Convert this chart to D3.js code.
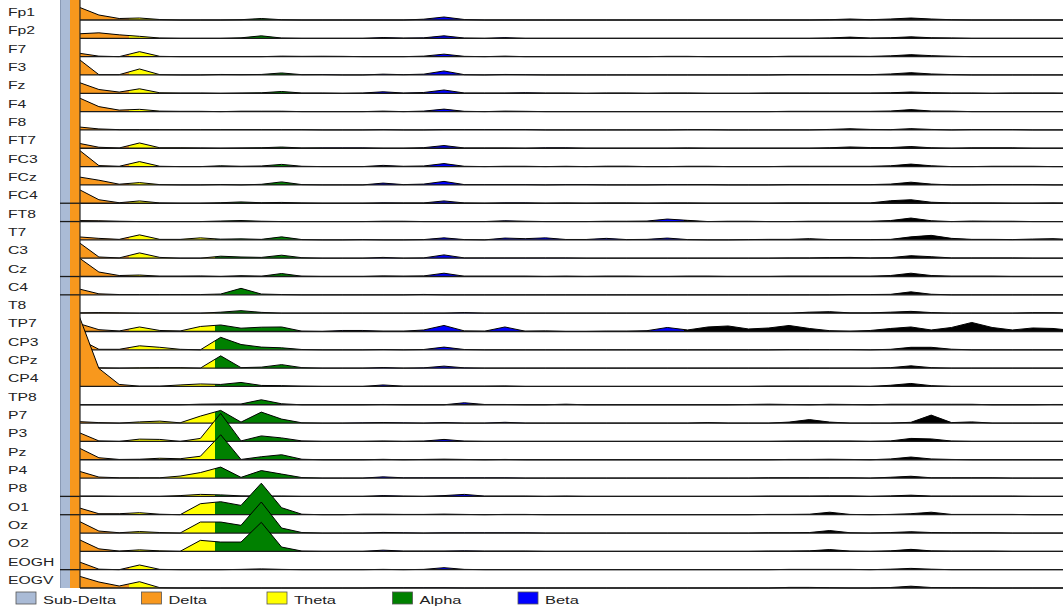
<!DOCTYPE html>
<html><head><meta charset="utf-8">
<script src="https://cdn.jsdelivr.net/npm/d3@7"></script>
<style>
body{margin:0;background:#fff}
svg{display:block}
text{font-family:"Liberation Sans",Arial,sans-serif;fill:#222}
</style>
</head><body>
<svg id="c" width="1063" height="612"></svg>
<script>
// ---------- data ----------
const channels = ["Fp1","Fp2","F7","F3","Fz","F4","F8","FT7","FC3","FCz","FC4","FT8","T7","C3","Cz","C4","T8","TP7","CP3","CPz","CP4","TP8","P7","P3","Pz","P4","P8","O1","Oz","O2","EOGH","EOGV"];
// frequency bins (Hz)
const freqs = [1,2,3,4,5,6,7,8,9,10,11,12,13,14,15,16,17,18,19,20,21,22,23,24,25,26,27,28,29,30,31,32,33,34,35,36,37,38,39,40,41,42,43,44,45,46,47,48,49,50];
// band edges (Hz): delta|theta, theta|alpha, alpha|beta, beta|gamma
const bandEdges = [3.5, 7.7, 12.9, 30.8];
const bandFill = ["#f8981d","#ffff00","#008000","#0000ff","#000000"];
const legendLabels = ["Sub-Delta","Delta","Theta","Alpha","Beta"];
const legendColors = ["#aabbd6","#f8981d","#ffff00","#008000","#0000ff"];
// rows whose baseline crosses the sub-delta / delta columns
const columnLines = ["FC4","FT8","Cz","C4","P8","O1","EOGH"];

// spectral power per channel (one value per frequency bin)
const Fp1  = [13,5,1.5,2,0.5,0,0,0,0.3,1.5, 0.3,0,0,0,0,0,0,0.8,3,0.5, 0,0,0,0,0,0,0,0,0,0, 0,0,0,0,0,0,0,0.3,1,0.3, 1,2,1,0.3,0,0,0,0,0,0];
const Fp2  = [4.5,5.5,3.5,2,0.3,0,0,0,0.5,2.5, 0.3,0,0,0,0,0.8,0.3,0.5,2.5,0.3, 0,0.7,0,0,0,0,0,0,0,0, 0,0,0,0,0,0,0,0.4,1.2,0.3, 0.6,1.5,0.6,0.4,0,0,0,0,0,0];
const F7   = [3.5,0.5,0,5,0.3,0,0,0,0,0, 0.5,0.3,0.4,0.3,0,0,0,0.5,2.5,0.3, 0,0.5,0,0,0,0,0,0,0,0.3, 0.3,0,0,0,0,0.4,0.4,0.4,0.4,0.3, 0.8,2,1,0.4,0,0,0,0,0,0];
const F3   = [16,0.3,0.3,6,0.3,0,0,0.5,0.3,0.5, 2,0.3,0.4,0,0,0.8,0.3,0.8,4,0.3, 0,0.5,0.3,0,0,0,0,0,0,0, 0,0,0,0,0,0.4,0.4,0.4,0.4,0.3, 1,2.3,1,0.4,0,0,0,0,0,0];
const Fz   = [11,3.8,1.2,4.5,0.5,0.3,0.3,0,0.3,0.5, 1.8,0.3,0.3,0,0.3,1.5,0.3,0.8,3.3,0.3, 0.3,0.3,0.6,0.3,0.3,0,0.3,0.3,0,0.3, 0.3,0,0,0,0.3,0.3,0.3,0.3,0.3,0.3, 0.5,1.3,0.6,0.3,0.3,0,0.3,0.3,0.3,0];
const F4   = [14,5,1.5,2.3,0.5,0.3,0.3,0,0.4,0.4, 0.4,0,0,0,0,0.5,0,0.5,2.5,0.3, 0,0.5,0.3,0,0,0,0,0,0,0, 0,0,0,0,0,0.3,0.3,0.3,0.3,0.3, 0.6,2,0.6,0.5,0,0,0,0,0,0];
const F8   = [3,1,0.3,0.3,0.3,0.3,0.3,0.3,0.3,0.3, 0.3,0.3,0,0,0,0.3,0,0,0.4,0.4, 0.4,0.4,0.4,0,0,0,0,0,0,0, 0.3,0.3,0,0,0,0,0,0.5,1.2,0.5, 0.3,1.3,0.5,0,0.4,0.4,0.4,0,0,0];
const FT7  = [5,1,0.3,5.3,0.5,0.5,0.3,0,0.3,0.5, 1.2,0.3,0.4,0.4,0.4,0,0,0.6,2.7,0.3, 0.3,0.3,0,0.5,0.5,0,0,0,0,0, 0.3,0,0,0,0,0,0,0.5,1.3,0.7, 0.7,1.7,0.5,0,0.4,0.4,0.4,0,0,0];
const FC3  = [17,1,0.3,5,0.3,0,0,0.8,0.3,0.6, 2.2,0.3,0,0,0,1.2,0.3,0.6,3,0.3, 0,0.3,0.3,0,0.3,0,0.4,0.4,0,0, 0.3,0.3,0,0,0,0.3,0.3,0.3,0.3,0.3, 0.8,2.5,0.8,0,0,0.3,0.3,0.3,0,0];
const FCz  = [8,4.7,0.7,2.3,0.3,0,0,0.4,0,0.6, 3,0.3,0,0,0,1.8,0.3,0.8,3.5,0.3, 0.3,0.3,0.3,0,0.3,0.3,0,0,0,0.3, 0.3,0.3,0,0,0,0.3,0.3,0.3,0.3,0.3, 0.8,2.7,0.8,0,0,0.3,0.3,0.3,0,0];
const FC4  = [14,3.5,0.5,2.3,0.3,0,0,0.5,1.3,0.5, 0.8,0.3,0,0,0,0.4,0.3,0.3,2.3,0.3, 0,0.4,0.4,0,0.3,0,0.3,0.3,0,0.3, 0.3,0,0,0,0,0.3,0.3,0.3,0.3,0.3, 2.5,3.5,1,0.3,0.3,0.3,0,0,0.3,0];
const FT8  = [1,0.8,0.3,0,0,0,0,0.5,1,0.3, 0,0,0,0,0,0.3,0.3,0,0,0, 0,0.8,0.3,0,0,0,0.3,0.3,0.5,2.5, 1.2,0,0.3,0.3,0,0,0.3,0.3,0.3,0.3, 1,3.5,0.8,0,0.5,0.3,0.3,0,0,0];
const T7   = [3,1.5,0.5,5,0.5,0.5,2,0.7,1,0.5, 3,0.3,0,0,0.3,0,0,0.3,2,0.3, 0,1.8,1.2,2,0.4,0.4,1.5,0.3,0.5,1.8, 0.3,0,0,0.3,0.5,0.5,1.2,0.3,0.3,0.3, 0.5,3,4.5,1.5,0.5,0.5,0.3,0.8,1.2,0.3];
const C3   = [16,1.2,0.3,5.3,0.8,0,0,2,1.2,0.8, 3,0.5,0,0,0,0.8,0,0.3,3.3,0.3, 0.3,0.3,0.3,0.3,0.3,0,0,0,0,0, 0,0,0,0,0,0.3,0.3,0.6,0.8,0.3, 0.6,2.5,1.5,0.3,0.3,0.3,0.3,0,0,0];
const Cz   = [19,4.5,1,1.5,0.3,0.3,0.5,0,0.8,0.3, 3,0.3,0,0,0,0.6,0.3,0.6,3.3,0.3, 0.3,0.3,0.3,0,0.3,0,0.3,0.3,0,0, 0.3,0.3,0,0,0,0.3,0.3,0.3,0.3,0.3, 1,3.3,1,0.3,0.3,0.3,0,0,0,0];
const C4   = [6,1,0.3,0.3,0.3,0.3,0.3,0.8,6.5,0.8, 0.3,0,0,0,0,0,0,0.4,0,0, 0,0,0,0,0,0,0,0,0,0, 0,0,0,0,0,0,0,0,0.3,0.3, 0.5,3,0.6,0,0,0,0,0,0,0];
const T8   = [0.3,0.6,0.3,0,0,0,0,1,2.5,0.8, 0,0,0,0,0,0,0,0,0,0.6, 0,0,0,0,0,0,0,0,0,0, 0,0,0,0,0,0,1,1.5,0.3,0.3, 1,1.8,0.6,0,0,0,0,0.5,0.5,0];
const TP7  = [8,1.8,0.5,4.5,1,0.5,5,6.5,3.3,4.3, 4.5,0.3,0,1,1,0.3,0.3,1.5,6,0.6, 0.3,4.5,0.3,0.6,0,0,0.3,0.3,0.8,4, 1.5,4.5,5.5,2.5,3.5,6,3,0.8,0.3,1, 3,4.5,1.5,4,9,4,1.5,3.5,3,1];
const CP3  = [11,0.5,0.5,4,2.5,0.5,0,12.5,5.3,2.7, 2,0.3,0,0,0,0.3,0,0.3,2.7,0.3, 0,0,0,0,0,0,0,0,0,0, 0,0,0,0,0,0.3,0.3,0.3,0.3,0, 0.5,2.5,2.5,0.6,0,0,0,0,0,0];
const CPz  = [6,0.3,0,0.3,0.5,0.5,0,12.3,0.5,1, 3.5,0.5,0,0,0,0.6,0,0.3,2,0.3, 0,0,0,0,0,0,0,0,0,0, 0,0,0,0,0,0,0,0,0,0, 0.5,2.3,0.5,0,0,0,0,0,0,0];
const CP4  = [72,18,2,0.3,0.3,1.5,2.5,2,4,1, 0.8,0.3,0,0,0,1.5,0.3,0.3,0.3,0.3, 0.3,0.5,0,0,0,0,0,0,0,0, 0,0,0,0,0.3,0.3,0.3,0.3,0.3,0, 1.2,3,0.8,0,0,0,0,0,0,0];
const TP8  = [0,0,0,0,0,0,0.6,0.8,0.8,5, 1,0,0,0,0,0.3,0,0,0,2, 0.3,0.3,0,0,0.6,0,0,0,0,0, 0,0,0,0.3,0.6,0.3,0,0.5,0.3,0, 0.5,0.5,0.5,0.5,0.5,0,0,0,0.3,0.3];
const P7   = [1.5,0.5,0,1.2,2,0.3,7,12.7,1,11, 4,0.3,0,0,0.3,0.6,0.3,0,0.6,0, 0,0.8,0,0,0,0,0,0,0,0, 0,0.5,0,0,0,1,3.5,1,0,0, 0,0.8,8,0.5,1.2,0,0,0,0,0];
const P3   = [9,0.5,0,2.3,2,0,3,28,0.5,5.5, 3.5,0.5,0,0,0,0.4,0,0.3,2,0.3, 0,0,0,0,0,0,0,0,0,0, 0,0,0,0,0,0.3,0.4,0.4,0.4,0, 0.5,3,2.5,0.4,0,0,0,0,0,0];
const Pz   = [12,2,0.3,0.5,1.5,1,3.5,25,0.3,3, 5,0.5,0,0,0,0.4,0,0.3,0.6,0.3, 0,0.3,0,0,0,0,0,0,0,0, 0,0,0,0,0,0.3,0.3,0.5,0.3,0, 0.8,2.7,0.8,0.3,0,0,0,0,0,0];
const P4   = [7,1,0.3,0.3,0.3,2,5.5,11,0.7,7.5, 4,0.5,0,0,0,1.2,0.3,0.3,0.3,0.3, 0.3,0.3,0,0,0,0,0,0,0,0, 0,0,0,0,0.3,0.3,0.3,0.3,0.3,0, 0.8,1.8,0.3,0.3,0.3,0.3,0,0,0,0];
const P8   = [0.3,0.3,0,0,0,0.8,2,1.5,0.5,0.3, 0.3,0,0,0,0,0.8,0.3,0,0.8,2, 0.3,0.3,0.3,0,0.3,0,0,0,0,0, 0,0,0,0,0.3,0.3,0.3,0.5,0.5,0, 0.5,1.2,0.3,0.3,0.3,0.3,0.3,0,0,0];
const O1   = [7,1,1,2,0.5,0,11,13,9.3,31.5, 7,0.5,0,0,0.5,0.5,0.3,0.3,0.6,0.3, 0,0.3,0.3,0,0,0,0,0,0,0, 0,0,0,0,0.3,0.3,0.5,2.5,0.3,0, 0.3,1,2.5,0.3,0.3,0.3,0.3,0,0,0];
const Oz   = [12,2,0.3,1.5,0.5,0,11,11,7.7,31, 5,0.5,0,0,0,0.6,0.3,0,0.3,0.3, 0.3,0.3,0.3,0,0,0,0,0,0,0, 0,0,0,0,0.3,0.3,0.5,2.5,0.3,0, 0.5,1.3,0.5,0.3,0.3,0.3,0,0,0,0];
const O2   = [12,2.5,0.3,1.5,0.5,0,11,9.3,9.3,29, 4.3,0.3,0,0,0,1.2,0.3,0.3,0.3,0.6, 0.3,0.3,0.3,0,0,0,0,0,0,0, 0,0,0,0,0.3,0.3,0.5,1.8,0.3,0, 0.5,2,0.5,0.3,0.3,0.3,0,0,0,0];
const EOGH = [8,0.5,0,4.7,0.3,0,0,0,0.3,0.8, 0.3,0,0,0,0,0.3,0,0.3,2,0.3, 0,0,0,0,0,0,0,0,0,0, 0,0,0,0,0,0.3,0.3,0.3,0.3,0, 0.5,1.3,0.5,0,0,0,0,0,0,0];
const EOGV = [12,6,2,6.3,0.3,0,0,0,0,0, 0,0,0,0,0,0.3,0.3,0.3,0.3,0, 0,0,0,0,0,0,0,0,0,0, 0,0,0,0,0,0.6,0.6,0.3,0,0, 0.5,1.8,0.5,0.3,0.3,0,0,0,0,0];

const power = [Fp1,Fp2,F7,F3,Fz,F4,F8,FT7,FC3,FCz,FC4,FT8,T7,C3,Cz,C4,T8,TP7,CP3,CPz,CP4,TP8,P7,P3,Pz,P4,P8,O1,Oz,O2,EOGH,EOGV];

// ---------- drawing ----------
const W = 1063, H = 612;
const svg = d3.select("#c");
const x = d3.scaleLinear().domain([1, 50]).range([78.6, 1073.3]);
const y = d3.scalePoint().domain(channels).range([20, 588]);
const amp = d3.scaleLinear().domain([0, 10]).range([0, 10]);
const plotLeft = 80, colSub = 60, colDelta = 70;

const defs = svg.append("defs");
defs.append("clipPath").attr("id","plotClip")
  .append("rect").attr("x", plotLeft).attr("y", -200).attr("width", W - plotLeft).attr("height", H + 400);

const grad = defs.append("linearGradient").attr("id","bands")
  .attr("gradientUnits","userSpaceOnUse").attr("x1",0).attr("x2",W).attr("y1",0).attr("y2",0);
const edgesPx = bandEdges.map(e => x(e) / W);
bandFill.forEach((c, i) => {
  const a = i === 0 ? 0 : edgesPx[i-1];
  const b = i === bandFill.length - 1 ? 1 : edgesPx[i];
  grad.append("stop").attr("offset", a).attr("stop-color", c);
  grad.append("stop").attr("offset", b).attr("stop-color", c);
});

const plot = svg.append("g").attr("clip-path","url(#plotClip)");

channels.forEach((ch, i) => {
  const yb = y(ch);
  const vals = power[i];
  const area = d3.area().x((d,k) => x(freqs[k])).y0(yb).y1(d => yb - amp(d));
  const line = d3.line().x((d,k) => x(freqs[k])).y(d => yb - amp(d));
  const g = plot.append("g");
  g.append("path").attr("d", area(vals)).attr("fill","url(#bands)");
  g.append("path").attr("d", line(vals)).attr("fill","none").attr("stroke","#000").attr("stroke-width",1).attr("stroke-linejoin","round");
  g.append("line").attr("x1", plotLeft).attr("x2", W).attr("y1", yb).attr("y2", yb)
    .attr("stroke","#1a1a1a").attr("stroke-width",1.3);
});

// sub-delta and delta columns
const yBottom = y(channels[channels.length-1]);
svg.append("rect").attr("x", colSub).attr("y", 0).attr("width", colDelta - colSub).attr("height", yBottom)
  .attr("fill", legendColors[0]);
svg.append("line").attr("x1", colSub+0.5).attr("x2", colSub+0.5).attr("y1",0).attr("y2",yBottom).attr("stroke","#8a9ab5").attr("stroke-width",1);
svg.append("rect").attr("x", colDelta).attr("y", 0).attr("width", plotLeft - colDelta).attr("height", yBottom)
  .attr("fill", legendColors[1]);
columnLines.forEach(ch => {
  svg.append("line").attr("x1", colSub).attr("x2", plotLeft).attr("y1", y(ch)).attr("y2", y(ch))
    .attr("stroke","#1a1a1a").attr("stroke-width",1.3);
});
svg.append("line").attr("x1", plotLeft).attr("x2", plotLeft).attr("y1", 0).attr("y2", yBottom)
  .attr("stroke","#222").attr("stroke-width",1.2);

// channel labels
svg.append("g").selectAll("text").data(channels).join("text")
  .attr("transform", d => `translate(8,${y(d) - 4}) scale(1.43,1)`)
  .attr("font-size", 11).text(d => d);

// legend
const lg = svg.append("g");
legendLabels.forEach((lab, i) => {
  const lx = 16 + i * 125.5;
  lg.append("rect").attr("x", lx).attr("y", 592).attr("width", 20).attr("height", 12)
    .attr("fill", legendColors[i]).attr("stroke", "#555").attr("stroke-width", 0.8);
  lg.append("text").attr("transform", `translate(${lx + 27},603.5) scale(1.43,1)`)
    .attr("font-size", 11.5).text(lab);
});
</script>
</body></html>
